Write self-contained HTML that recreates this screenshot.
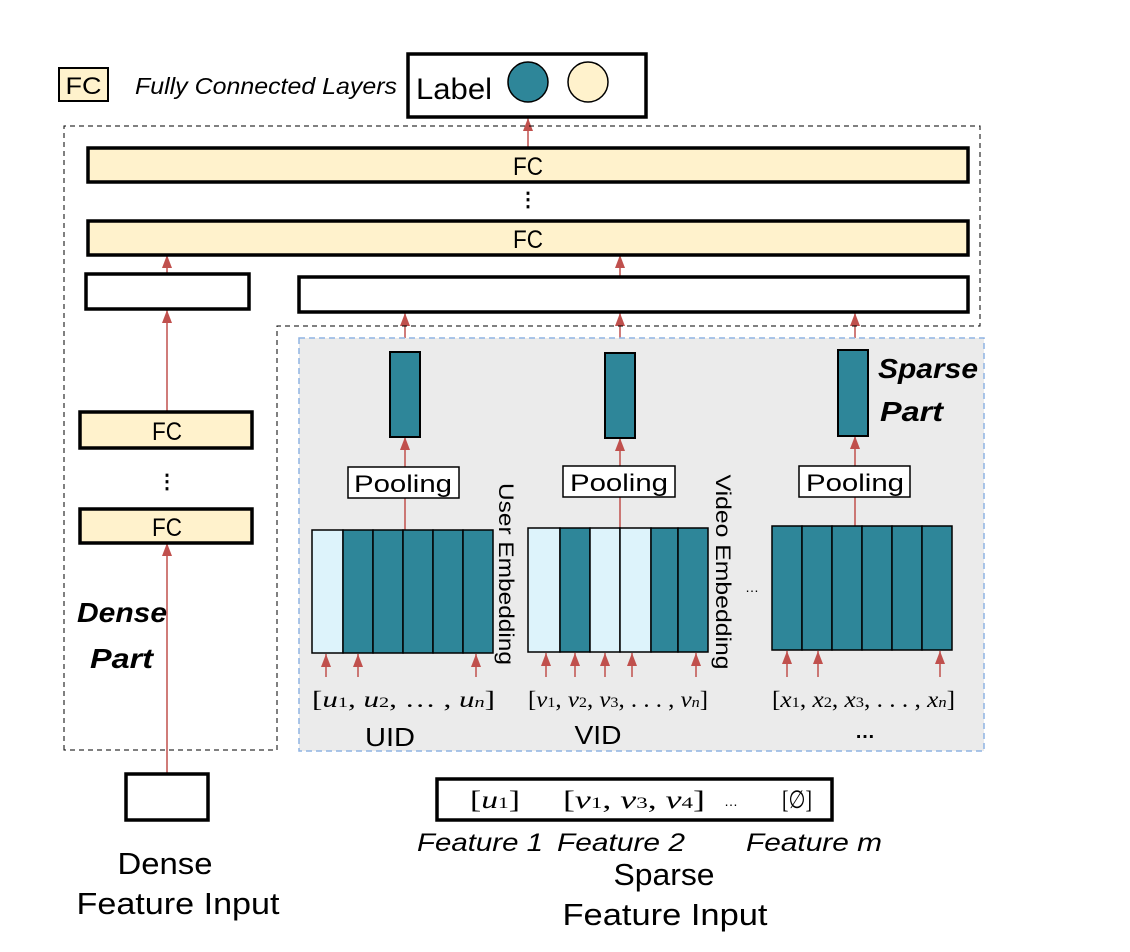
<!DOCTYPE html>
<html><head><meta charset="utf-8"><style>body{margin:0;background:#fff}svg{display:block}</style></head><body>
<svg width="1130" height="952" viewBox="0 0 1130 952" xmlns="http://www.w3.org/2000/svg" font-family="Liberation Sans, sans-serif">
<defs><marker id="a" markerWidth="13" markerHeight="10" refX="13" refY="5" orient="auto" markerUnits="userSpaceOnUse" viewBox="0 0 13 10"><path d="M0,0 L13,5 L0,10 Z" fill="#c0504d"/></marker></defs>
<g stroke="#c0504d" stroke-width="1.5" marker-end="url(#a)">
<line x1="528" y1="148" x2="528" y2="118"/>
<line x1="167" y1="273" x2="167" y2="255"/>
<line x1="620" y1="276" x2="620" y2="255"/>
<line x1="167" y1="412" x2="167" y2="310"/>
<line x1="167" y1="773" x2="167" y2="543"/>
<line x1="405" y1="352" x2="405" y2="313"/>
<line x1="620" y1="353" x2="620" y2="313"/>
<line x1="855" y1="350" x2="855" y2="313"/>
</g>
<rect x="59" y="68" width="49" height="33" fill="#fff2cc" stroke="#000" stroke-width="2"/>
<text x="83.5" y="94" font-size="24" text-anchor="middle" textLength="36" lengthAdjust="spacingAndGlyphs">FC</text>
<text x="135" y="94" font-size="23" font-style="italic" textLength="262" lengthAdjust="spacingAndGlyphs">Fully Connected Layers</text>
<rect x="408" y="54" width="238" height="63" fill="#fff" stroke="#000" stroke-width="3.5"/>
<text x="416" y="99" font-size="30" textLength="76" lengthAdjust="spacingAndGlyphs">Label</text>
<circle cx="528" cy="82" r="20" fill="#2e8699" stroke="#000" stroke-width="1.5"/>
<circle cx="588" cy="82" r="20" fill="#fff2cc" stroke="#000" stroke-width="1.5"/>
<path d="M64,750 L64,126 L980,126 L980,326 L277,326 L277,750 Z" fill="none" stroke="#000" stroke-width="1" stroke-dasharray="5,4"/>
<rect x="88" y="148" width="880" height="34" fill="#fff2cc" stroke="#000" stroke-width="3.5"/>
<text x="528" y="175" font-size="25" text-anchor="middle" textLength="30" lengthAdjust="spacingAndGlyphs">FC</text>
<text x="528" y="206" font-size="20" text-anchor="middle" font-weight="bold">⋮</text>
<rect x="88" y="221" width="880" height="34" fill="#fff2cc" stroke="#000" stroke-width="3.5"/>
<text x="528" y="248" font-size="25" text-anchor="middle" textLength="30" lengthAdjust="spacingAndGlyphs">FC</text>
<rect x="86" y="274" width="163" height="35" fill="#fff" stroke="#000" stroke-width="3.5"/>
<rect x="299" y="277" width="669" height="35" fill="#fff" stroke="#000" stroke-width="3.5"/>
<rect x="80" y="412" width="172" height="36" fill="#fff2cc" stroke="#000" stroke-width="3.5"/>
<text x="167" y="440" font-size="25" text-anchor="middle" textLength="30" lengthAdjust="spacingAndGlyphs">FC</text>
<text x="167" y="488" font-size="20" text-anchor="middle" font-weight="bold">⋮</text>
<rect x="80" y="509" width="172" height="34" fill="#fff2cc" stroke="#000" stroke-width="3.5"/>
<text x="167" y="536" font-size="25" text-anchor="middle" textLength="30" lengthAdjust="spacingAndGlyphs">FC</text>
<text x="77" y="622" font-size="28" font-weight="bold" font-style="italic" textLength="90" lengthAdjust="spacingAndGlyphs">Dense</text>
<text x="90" y="668" font-size="28" font-weight="bold" font-style="italic" textLength="63" lengthAdjust="spacingAndGlyphs">Part</text>
<rect x="299" y="338" width="685" height="413" fill="#ebebeb" stroke="#8fb4e3" stroke-width="1.5" stroke-dasharray="6,4"/>
<g stroke="#c0504d" stroke-width="1.5" marker-end="url(#a)">
<line x1="405" y1="530" x2="405" y2="437"/>
<line x1="620" y1="528" x2="620" y2="438"/>
<line x1="855" y1="526" x2="855" y2="436"/>
</g>
<rect x="390" y="352" width="30" height="85" fill="#2e8699" stroke="#000" stroke-width="2"/>
<rect x="605" y="353" width="30" height="85" fill="#2e8699" stroke="#000" stroke-width="2"/>
<rect x="838" y="350" width="30" height="86" fill="#2e8699" stroke="#000" stroke-width="2"/>
<text x="878" y="378" font-size="28" font-weight="bold" font-style="italic" textLength="100" lengthAdjust="spacingAndGlyphs">Sparse</text>
<text x="880" y="421" font-size="28" font-weight="bold" font-style="italic" textLength="63" lengthAdjust="spacingAndGlyphs">Part</text>
<rect x="348" y="467" width="111" height="31" fill="#fff" stroke="#000" stroke-width="1.5"/>
<text x="403" y="492" font-size="24" text-anchor="middle" textLength="98" lengthAdjust="spacingAndGlyphs">Pooling</text>
<rect x="563" y="466" width="112" height="31" fill="#fff" stroke="#000" stroke-width="1.5"/>
<text x="619" y="491" font-size="24" text-anchor="middle" textLength="98" lengthAdjust="spacingAndGlyphs">Pooling</text>
<rect x="799" y="466" width="111" height="31" fill="#fff" stroke="#000" stroke-width="1.5"/>
<text x="855" y="491" font-size="24" text-anchor="middle" textLength="98" lengthAdjust="spacingAndGlyphs">Pooling</text>
<g stroke="#000" stroke-width="1.5">
<rect x="312" y="530" width="31" height="123" fill="#ddf3fb"/>
<rect x="343" y="530" width="30" height="123" fill="#2e8699"/>
<rect x="373" y="530" width="30" height="123" fill="#2e8699"/>
<rect x="403" y="530" width="30" height="123" fill="#2e8699"/>
<rect x="433" y="530" width="30" height="123" fill="#2e8699"/>
<rect x="463" y="530" width="30" height="123" fill="#2e8699"/>
<rect x="528" y="528" width="32" height="124" fill="#ddf3fb"/>
<rect x="560" y="528" width="30" height="124" fill="#2e8699"/>
<rect x="590" y="528" width="30" height="124" fill="#ddf3fb"/>
<rect x="620" y="528" width="31" height="124" fill="#ddf3fb"/>
<rect x="651" y="528" width="27" height="124" fill="#2e8699"/>
<rect x="678" y="528" width="30" height="124" fill="#2e8699"/>
<rect x="772" y="526" width="30" height="124" fill="#2e8699"/>
<rect x="802" y="526" width="30" height="124" fill="#2e8699"/>
<rect x="832" y="526" width="30" height="124" fill="#2e8699"/>
<rect x="862" y="526" width="30" height="124" fill="#2e8699"/>
<rect x="892" y="526" width="30" height="124" fill="#2e8699"/>
<rect x="922" y="526" width="30" height="124" fill="#2e8699"/>
</g>
<text transform="translate(499,574) rotate(90)" font-size="21" text-anchor="middle" textLength="182" lengthAdjust="spacingAndGlyphs">User Embedding</text>
<text transform="translate(716,572) rotate(90)" font-size="21" text-anchor="middle" textLength="195" lengthAdjust="spacingAndGlyphs">Video Embedding</text>
<text x="752" y="592" font-size="14" text-anchor="middle">…</text>
<g stroke="#c0504d" stroke-width="1.5" marker-end="url(#a)">
<line x1="326" y1="677" x2="326" y2="654"/><line x1="358" y1="677" x2="358" y2="654"/><line x1="476" y1="677" x2="476" y2="654"/>
<line x1="546" y1="677" x2="546" y2="653"/><line x1="575" y1="677" x2="575" y2="653"/><line x1="605" y1="677" x2="605" y2="653"/><line x1="632" y1="677" x2="632" y2="653"/><line x1="696" y1="677" x2="696" y2="653"/>
<line x1="787" y1="677" x2="787" y2="651"/><line x1="818" y1="677" x2="818" y2="651"/><line x1="940" y1="677" x2="940" y2="651"/>
</g>
<g font-family="Liberation Serif, serif" font-size="23">
<text x="312" y="707" textLength="183" lengthAdjust="spacingAndGlyphs">[<tspan font-style="italic">u</tspan><tspan font-size="15">1</tspan>, <tspan font-style="italic">u</tspan><tspan font-size="15">2</tspan>,    …   , <tspan font-style="italic">u</tspan><tspan font-size="15" font-style="italic">n</tspan>]</text>
<text x="528" y="707" textLength="180" lengthAdjust="spacingAndGlyphs">[<tspan font-style="italic">v</tspan><tspan font-size="15">1</tspan>, <tspan font-style="italic">v</tspan><tspan font-size="15">2</tspan>, <tspan font-style="italic">v</tspan><tspan font-size="15">3</tspan>, . . . , <tspan font-style="italic">v</tspan><tspan font-size="15" font-style="italic">n</tspan>]</text>
<text x="772" y="707" textLength="183" lengthAdjust="spacingAndGlyphs">[<tspan font-style="italic">x</tspan><tspan font-size="15">1</tspan>, <tspan font-style="italic">x</tspan><tspan font-size="15">2</tspan>, <tspan font-style="italic">x</tspan><tspan font-size="15">3</tspan>, . . . , <tspan font-style="italic">x</tspan><tspan font-size="15" font-style="italic">n</tspan>]</text>
</g>
<text x="390" y="746" font-size="26" text-anchor="middle" textLength="50" lengthAdjust="spacingAndGlyphs">UID</text>
<text x="598" y="744" font-size="26" text-anchor="middle" textLength="47" lengthAdjust="spacingAndGlyphs">VID</text>
<text x="865" y="738" font-size="20" font-weight="bold" text-anchor="middle">…</text>
<rect x="126" y="774" width="82" height="46" fill="#fff" stroke="#000" stroke-width="3.5"/>
<text x="165" y="874" font-size="31" text-anchor="middle" textLength="95" lengthAdjust="spacingAndGlyphs">Dense</text>
<text x="178" y="914" font-size="31" text-anchor="middle" textLength="203" lengthAdjust="spacingAndGlyphs">Feature Input</text>
<rect x="437" y="779" width="395" height="41" fill="#fff" stroke="#000" stroke-width="3.5"/>
<g font-family="Liberation Serif, serif" font-size="25">
<text x="470" y="808" textLength="50" lengthAdjust="spacingAndGlyphs">[<tspan font-style="italic">u</tspan><tspan font-size="16">1</tspan>]</text>
<text x="563" y="808" textLength="142" lengthAdjust="spacingAndGlyphs">[<tspan font-style="italic">v</tspan><tspan font-size="16">1</tspan>, <tspan font-style="italic">v</tspan><tspan font-size="16">3</tspan>, <tspan font-style="italic">v</tspan><tspan font-size="16">4</tspan>]</text>
<text x="782" y="808" textLength="30" lengthAdjust="spacingAndGlyphs">[∅]</text>
</g>
<text x="731" y="806" font-size="14" text-anchor="middle">…</text>
<text x="417" y="851" font-size="25" font-style="italic" textLength="126" lengthAdjust="spacingAndGlyphs">Feature 1</text>
<text x="557" y="851" font-size="25" font-style="italic" textLength="128" lengthAdjust="spacingAndGlyphs">Feature 2</text>
<text x="746" y="851" font-size="25" font-style="italic" textLength="136" lengthAdjust="spacingAndGlyphs">Feature m</text>
<text x="664" y="885" font-size="31" text-anchor="middle" textLength="101" lengthAdjust="spacingAndGlyphs">Sparse</text>
<text x="665" y="925" font-size="31" text-anchor="middle" textLength="205" lengthAdjust="spacingAndGlyphs">Feature Input</text>
</svg>
</body></html>
